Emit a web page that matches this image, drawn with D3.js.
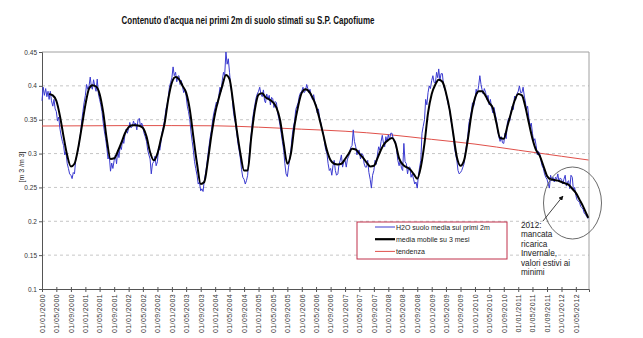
<!DOCTYPE html>
<html>
<head>
<meta charset="utf-8">
<script src="https://cdn.jsdelivr.net/npm/d3@7"></script>
<style>
  html, body { margin: 0; padding: 0; background: #fff; }
  svg { display: block; font-family: "Liberation Sans", Arial, sans-serif; }
</style>
</head>
<body>
<svg id="chart" width="643" height="338"></svg>
<script>
// Soil water content (m3/m3), one value per ten-day period (1st, 11th, 21st) from Jan 2000
const soilWater = [
  // 2000
  0.378, 0.398, 0.386, 0.396, 0.384, 0.392, 0.380, 0.392, 0.378, 0.370, 0.380, 0.366,
  0.362, 0.348, 0.354, 0.336, 0.326, 0.318, 0.312, 0.298, 0.302, 0.285, 0.278, 0.270,
  0.268, 0.263, 0.272, 0.270, 0.290, 0.298, 0.305, 0.318, 0.330, 0.348, 0.362, 0.375,
  // 2001
  0.386, 0.402, 0.395, 0.400, 0.413, 0.398, 0.395, 0.409, 0.400, 0.392, 0.410, 0.388,
  0.380, 0.372, 0.362, 0.345, 0.332, 0.322, 0.308, 0.292, 0.298, 0.274, 0.286, 0.278,
  0.290, 0.298, 0.285, 0.305, 0.294, 0.310, 0.306, 0.322, 0.315, 0.328, 0.336, 0.330,
  // 2002
  0.337, 0.346, 0.338, 0.340, 0.348, 0.342, 0.345, 0.335, 0.350, 0.352, 0.340, 0.345,
  0.340, 0.330, 0.325, 0.318, 0.305, 0.298, 0.292, 0.270, 0.285, 0.288, 0.296, 0.282,
  0.288, 0.310, 0.305, 0.318, 0.332, 0.340, 0.350, 0.365, 0.372, 0.382, 0.398, 0.405,
  // 2003
  0.412, 0.428, 0.415, 0.420, 0.406, 0.414, 0.415, 0.402, 0.408, 0.398, 0.390, 0.395,
  0.385, 0.370, 0.362, 0.350, 0.332, 0.318, 0.305, 0.288, 0.278, 0.268, 0.255, 0.258,
  0.245, 0.248, 0.244, 0.260, 0.270, 0.282, 0.298, 0.312, 0.325, 0.335, 0.350, 0.360,
  // 2004
  0.368, 0.376, 0.372, 0.386, 0.398, 0.392, 0.408, 0.420, 0.415, 0.450, 0.432, 0.440,
  0.420, 0.400, 0.388, 0.365, 0.352, 0.345, 0.330, 0.315, 0.305, 0.292, 0.276, 0.265,
  0.262, 0.255, 0.260, 0.268, 0.290, 0.310, 0.330, 0.350, 0.362, 0.372, 0.382, 0.388,
  // 2005
  0.392, 0.398, 0.388, 0.384, 0.394, 0.378, 0.375, 0.388, 0.380, 0.386, 0.372, 0.383,
  0.381, 0.368, 0.377, 0.375, 0.360, 0.352, 0.342, 0.330, 0.318, 0.305, 0.285, 0.270,
  0.266, 0.280, 0.292, 0.305, 0.325, 0.338, 0.348, 0.365, 0.370, 0.375, 0.385, 0.390,
  // 2006
  0.392, 0.398, 0.390, 0.393, 0.402, 0.396, 0.390, 0.395, 0.385, 0.380, 0.387, 0.376,
  0.372, 0.360, 0.366, 0.352, 0.345, 0.336, 0.330, 0.318, 0.306, 0.300, 0.285, 0.275,
  0.278, 0.268, 0.282, 0.290, 0.275, 0.268, 0.270, 0.284, 0.290, 0.298, 0.280, 0.288,
  // 2007
  0.290, 0.280, 0.292, 0.296, 0.305, 0.310, 0.312, 0.335, 0.318, 0.310, 0.298, 0.304,
  0.305, 0.292, 0.300, 0.298, 0.285, 0.280, 0.280, 0.290, 0.272, 0.262, 0.249, 0.268,
  0.275, 0.290, 0.284, 0.298, 0.310, 0.305, 0.318, 0.327, 0.315, 0.310, 0.325, 0.318,
  // 2008
  0.328, 0.320, 0.330, 0.330, 0.322, 0.318, 0.318, 0.305, 0.290, 0.282, 0.290, 0.278,
  0.275, 0.315, 0.288, 0.285, 0.270, 0.280, 0.280, 0.265, 0.270, 0.262, 0.255, 0.258,
  0.249, 0.268, 0.280, 0.290, 0.330, 0.340, 0.350, 0.380, 0.372, 0.390, 0.400, 0.396,
  // 2009
  0.408, 0.415, 0.405, 0.404, 0.420, 0.412, 0.425, 0.408, 0.418, 0.418, 0.400, 0.395,
  0.390, 0.380, 0.372, 0.365, 0.350, 0.342, 0.330, 0.310, 0.300, 0.290, 0.275, 0.270,
  0.272, 0.275, 0.280, 0.285, 0.300, 0.312, 0.325, 0.345, 0.352, 0.362, 0.375, 0.370,
  // 2010
  0.380, 0.395, 0.388, 0.400, 0.415, 0.402, 0.395, 0.388, 0.396, 0.390, 0.380, 0.386,
  0.372, 0.380, 0.368, 0.360, 0.368, 0.358, 0.350, 0.335, 0.325, 0.318, 0.325, 0.316,
  0.315, 0.330, 0.322, 0.345, 0.352, 0.348, 0.362, 0.370, 0.365, 0.385, 0.380, 0.388,
  // 2011
  0.392, 0.400, 0.390, 0.390, 0.398, 0.385, 0.378, 0.365, 0.370, 0.352, 0.340, 0.345,
  0.330, 0.318, 0.322, 0.312, 0.298, 0.303, 0.300, 0.290, 0.282, 0.278, 0.270, 0.265,
  0.262, 0.255, 0.249, 0.268, 0.260, 0.265, 0.258, 0.265, 0.262, 0.270, 0.258, 0.264,
  // 2012
  0.262, 0.255, 0.262, 0.268, 0.252, 0.258, 0.260, 0.248, 0.268, 0.265, 0.245, 0.250,
  0.238, 0.232, 0.230, 0.228, 0.222, 0.220, 0.218, 0.212, 0.210, 0.207, 0.204
];

// 3-month moving average, on the 1st of each month from Mar 2000 to Aug 2012
const movingAvg = [
  0.388, 0.386, 0.378, 0.355, 0.325, 0.297, 0.281, 0.285, 0.308, 0.339,
  0.372, 0.396, 0.401, 0.399, 0.388, 0.360, 0.320, 0.292, 0.293, 0.303, 0.316, 0.330,
  0.339, 0.342, 0.342, 0.341, 0.338, 0.325, 0.302, 0.290, 0.300, 0.322, 0.345, 0.380,
  0.405, 0.413, 0.410, 0.400, 0.390, 0.365, 0.325, 0.285, 0.255, 0.258, 0.290, 0.328,
  0.360, 0.382, 0.400, 0.416, 0.410, 0.375, 0.335, 0.300, 0.275, 0.275, 0.325, 0.365,
  0.387, 0.389, 0.383, 0.380, 0.376, 0.368, 0.350, 0.315, 0.285, 0.300, 0.342, 0.370,
  0.390, 0.395, 0.392, 0.383, 0.370, 0.350, 0.328, 0.305, 0.290, 0.285, 0.284, 0.285,
  0.292, 0.300, 0.307, 0.306, 0.300, 0.294, 0.287, 0.281, 0.282, 0.293, 0.306, 0.315,
  0.320, 0.323, 0.315, 0.293, 0.284, 0.280, 0.277, 0.270, 0.263, 0.280, 0.315, 0.360,
  0.388, 0.402, 0.409, 0.406, 0.390, 0.365, 0.330, 0.295, 0.282, 0.290, 0.320, 0.357,
  0.382, 0.392, 0.392, 0.385, 0.375, 0.367, 0.345, 0.323, 0.322, 0.340, 0.360, 0.378,
  0.388, 0.386, 0.370, 0.345, 0.322, 0.305, 0.297, 0.282, 0.267, 0.262, 0.261, 0.260,
  0.258, 0.256, 0.254, 0.248, 0.242, 0.232, 0.222, 0.210
];
const movingAvgLast = { date: new Date(2012, 7, 14), value: 0.205 };

// Long-term trend
const trendDates = ["2000-01-01", "2001-01-01", "2002-01-01", "2003-01-01", "2004-01-01",
  "2005-01-01", "2006-01-01", "2007-01-01", "2008-01-01", "2009-01-01", "2010-01-01",
  "2011-01-01", "2012-01-01", "2012-08-16"];
const trendValues = [0.3407, 0.3410, 0.3413, 0.3413, 0.3410, 0.3390, 0.3360, 0.3330,
  0.3280, 0.3210, 0.3140, 0.3050, 0.2960, 0.2905];

const yTicks = [0.1, 0.15, 0.2, 0.25, 0.3, 0.35, 0.4, 0.45];
const legendLabels = ["H2O suolo media sui primi 2m", "media mobile su 3 mesi", "tendenza"];
const noteLines = ["2012:", "mancata", "ricarica", "Invernale,", "valori estivi ai", "minimi"];
const titleText = "Contenuto d'acqua nei primi 2m di suolo stimati su S.P. Capofiume";
const yTitle = "[m 3 /m 3]";

const svg = d3.select("#chart");
const plotL = 42, plotR = 589, plotT = 52, plotB = 289;

const x = d3.scaleTime()
  .domain([new Date(2000, 0, 1), new Date(2012, 7, 20)])
  .range([plotL, plotR]);
const y = d3.scaleLinear().domain([0.1, 0.45]).range([plotB, plotT]);

const parse = d3.timeParse("%Y-%m-%d");
const dekadDays = [1, 11, 21];
const blueData = soilWater.map((v, i) => ({ date: new Date(2000, Math.floor(i / 3), dekadDays[i % 3]), value: v }));
const maData = movingAvg.map((v, i) => ({ date: new Date(2000, i + 2, 1), value: v })).concat([movingAvgLast]);
const trendData = trendDates.map((d, i) => ({ date: parse(d), value: trendValues[i] }));

// Title
svg.append("text")
  .attr("x", 248).attr("y", 24)
  .attr("text-anchor", "middle")
  .attr("font-family", "'Liberation Sans Narrow', 'Arial Narrow', 'Liberation Sans', sans-serif")
  .attr("font-weight", "bold").attr("font-size", 11.5)
  .attr("textLength", 253).attr("lengthAdjust", "spacingAndGlyphs")
  .attr("fill", "#111")
  .text(titleText);

// Horizontal gridlines
svg.append("g").selectAll("line")
  .data(yTicks.filter(t => t > 0.1 && t < 0.45))
  .join("line")
  .attr("x1", plotL).attr("x2", plotR)
  .attr("y1", d => y(d)).attr("y2", d => y(d))
  .attr("stroke", "#b8b8b8").attr("stroke-width", 0.8)
  .attr("stroke-dasharray", "3,3");

// Plot frame (top and right)
svg.append("path")
  .attr("d", `M${plotL},${y(0.45)}H${plotR}V${plotB}`)
  .attr("fill", "none").attr("stroke", "#a0a0a0").attr("stroke-width", 1);

// Axes
const yAxis = svg.append("g")
  .attr("transform", `translate(${plotL},0)`)
  .call(d3.axisLeft(y).tickValues(yTicks).tickSize(3).tickPadding(2).tickFormat(d => String(d)));
yAxis.select(".domain").attr("stroke", "#555");
yAxis.selectAll(".tick line").attr("stroke", "#555");
yAxis.selectAll("text").attr("font-size", 6.5).attr("fill", "#333")
  .attr("font-family", "'Liberation Sans Narrow', 'Arial Narrow', 'Liberation Sans', sans-serif");

const xTicks = d3.timeMonth.range(new Date(2000, 0, 1), new Date(2012, 5, 2), 4);
const xAxis = svg.append("g")
  .attr("transform", `translate(0,${plotB})`)
  .call(d3.axisBottom(x).tickValues(xTicks).tickSize(3).tickFormat(d3.timeFormat("%d/%m/%Y")));
xAxis.select(".domain").attr("stroke", "#555");
xAxis.selectAll(".tick line").attr("stroke", "#555").attr("y1", -2);
xAxis.selectAll("text")
  .attr("font-size", 7).attr("fill", "#333")
  .attr("letter-spacing", 0.4)
  .attr("transform", "rotate(-90)")
  .attr("text-anchor", "end")
  .attr("x", -5).attr("y", 0).attr("dy", "0.33em");

// Y axis title
svg.append("text")
  .attr("transform", "translate(24,167) rotate(-90)")
  .attr("text-anchor", "middle")
  .attr("font-size", 7).attr("fill", "#222")
  .text(yTitle);

// Series
const line = d3.line().x(d => x(d.date)).y(d => y(d.value));

svg.append("path").datum(trendData)
  .attr("fill", "none").attr("stroke", "#e0504a").attr("stroke-width", 1)
  .attr("d", d3.line().x(d => x(d.date)).y(d => y(d.value)).curve(d3.curveMonotoneX)(trendData));

svg.append("path").datum(blueData)
  .attr("fill", "none").attr("stroke", "#3a3ad0").attr("stroke-width", 1)
  .attr("stroke-linejoin", "round")
  .attr("d", line(blueData));

svg.append("path").datum(maData)
  .attr("fill", "none").attr("stroke", "#000").attr("stroke-width", 2)
  .attr("stroke-linejoin", "round")
  .attr("d", d3.line().x(d => x(d.date)).y(d => y(d.value)).curve(d3.curveMonotoneX)(maData));

// Legend
const legend = svg.append("g").attr("transform", "translate(357,222)");
legend.append("rect")
  .attr("width", 150).attr("height", 37)
  .attr("fill", "#fff").attr("stroke", "#c0304a").attr("stroke-width", 1);
const legendStyles = [
  { color: "#3a3ad0", width: 1 },
  { color: "#000", width: 2.2 },
  { color: "#e0504a", width: 1 }
];
legendLabels.forEach((lab, i) => {
  const ly = 5 + i * 12.2;
  legend.append("line")
    .attr("x1", 18).attr("x2", 38).attr("y1", ly).attr("y2", ly)
    .attr("stroke", legendStyles[i].color).attr("stroke-width", legendStyles[i].width);
  legend.append("text")
    .attr("x", 39).attr("y", ly + 2.5)
    .attr("font-size", 7).attr("fill", "#222")
    .text(lab);
});

// Annotation: ellipse, arrow and note
svg.append("defs").append("marker")
  .attr("id", "arrowhead").attr("viewBox", "0 0 10 10")
  .attr("refX", 9).attr("refY", 5)
  .attr("markerWidth", 6).attr("markerHeight", 6)
  .attr("orient", "auto")
  .append("path").attr("d", "M0,0L10,5L0,10z").attr("fill", "#111");

svg.append("ellipse")
  .attr("cx", 572.5).attr("cy", 203).attr("rx", 29).attr("ry", 36)
  .attr("fill", "none").attr("stroke", "#444").attr("stroke-width", 0.8);

svg.append("line")
  .attr("x1", 543).attr("y1", 221).attr("x2", 563).attr("y2", 196)
  .attr("stroke", "#111").attr("stroke-width", 0.8)
  .attr("marker-end", "url(#arrowhead)");

svg.append("g").selectAll("text")
  .data(noteLines)
  .join("text")
  .attr("x", 521).attr("y", (d, i) => 228 + i * 9.4)
  .attr("font-size", 8.2).attr("fill", "#222")
  .text(d => d);
</script>
</body>
</html>
